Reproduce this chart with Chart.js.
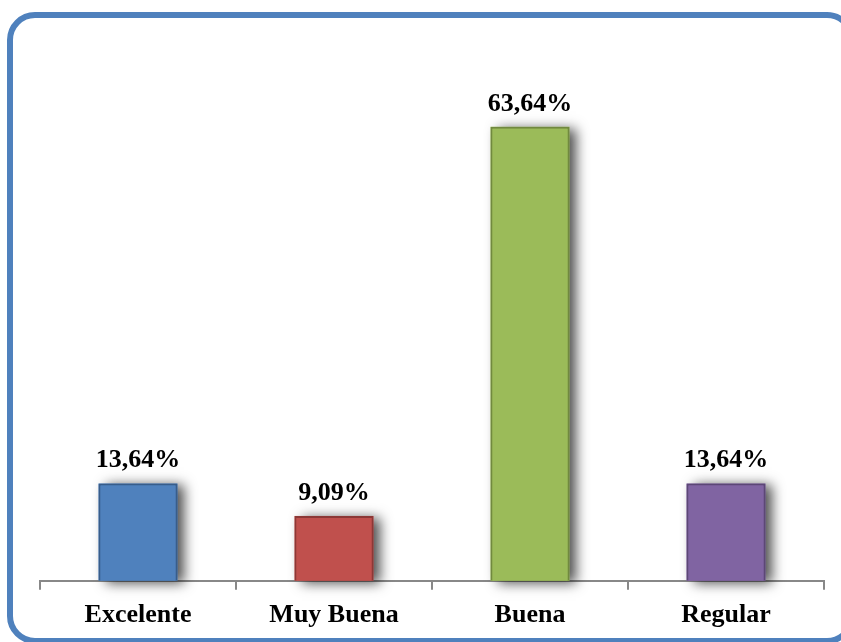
<!DOCTYPE html>
<html>
<head>
<meta charset="utf-8">
<script src="https://cdn.jsdelivr.net/npm/chart.js@4"></script>
<style>
  html, body { margin:0; padding:0; background:#fff; overflow:hidden; }
  #wrap { position:relative; width:841px; height:642px; }
  #frame {
    position:absolute; left:7px; top:12px; width:848px; height:632px;
    box-sizing:border-box; border:6px solid #4F81BD; border-radius:28px;
  }
  #chart { position:absolute; left:0; top:0; }
</style>
</head>
<body>
<div id="wrap">
  <div id="frame"></div>
  <canvas id="chart" width="841" height="642"></canvas>
</div>
<script>
// Valoración - porcentajes por categoría
const categories = ["Excelente", "Muy Buena", "Buena", "Regular"];
const percentages = [13.64, 9.09, 63.64, 13.64];
const fillColors = ["#4F81BD", "#C0504D", "#9BBB59", "#8064A2"];
const edgeColors = ["#385D8A", "#8C3836", "#71893F", "#5C4776"];

const serif = '"Liberation Serif", "Times New Roman", serif';

// soft drop shadow painted under each bar before the bars themselves
const barShadow = {
  id: "barShadow",
  beforeDatasetsDraw(chart){
    const c = chart.ctx;
    const meta = chart.getDatasetMeta(0);
    c.save();
    c.shadowColor = "rgba(0,0,0,0.7)";
    c.shadowBlur = 12;
    c.shadowOffsetX = 7;
    c.shadowOffsetY = 2;
    meta.data.forEach((bar, i) => {
      const p = bar.getProps(["x", "y", "base", "width"], true);
      c.fillStyle = fillColors[i];
      c.fillRect(p.x - p.width / 2, p.y, p.width, p.base - p.y);
    });
    c.restore();
  }
};

// value labels above each bar
const valueLabels = {
  id: "valueLabels",
  afterDatasetsDraw(chart){
    const c = chart.ctx;
    const meta = chart.getDatasetMeta(0);
    c.save();
    c.font = "bold 26px " + serif;
    c.fillStyle = "#000";
    c.textAlign = "center";
    c.textBaseline = "alphabetic";
    meta.data.forEach((bar, i) => {
      const txt = percentages[i].toFixed(2).replace(".", ",") + "%";
      c.fillText(txt, bar.x, bar.y - 16);
    });
    c.restore();
  }
};

new Chart(document.getElementById("chart"), {
  type: "bar",
  data: {
    labels: categories,
    datasets: [{
      data: percentages,
      backgroundColor: fillColors,
      borderColor: edgeColors,
      borderWidth: 2,
      categoryPercentage: 1,
      barPercentage: 0.403
    }]
  },
  options: {
    responsive: false,
    animation: false,
    layout: { padding: { left: 40, right: 17, top: 60, bottom: 1 } },
    plugins: { legend: { display:false }, tooltip: { enabled:false } },
    scales: {
      x: {
        grid: { drawOnChartArea:false, drawTicks:true, tickLength:9, color:"#888", lineWidth:2, offset:true },
        border: { color:"#888", width:2 },
        ticks: { color:"#000", font: { family: serif, size: 26, weight: "bold" }, padding: 10 }
      },
      y: { display:false, min:0, max:73 }
    }
  },
  plugins: [barShadow, valueLabels]
});
</script>
</body>
</html>
